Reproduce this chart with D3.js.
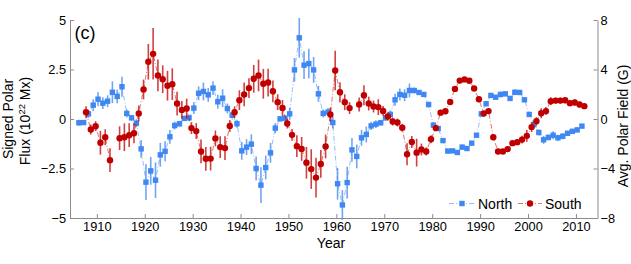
<!DOCTYPE html>
<html>
<head>
	<meta charset="utf-8">
	<script src="https://d3js.org/d3.v7.min.js"></script>
	<style>
		body { margin: 0; background: #fff; }
		text { font-family: "Liberation Sans", Arial, sans-serif; }
	</style>
</head>
<body>
	<div id="chart"></div>
	<script type="text/javascript">
		"use strict";

		// North hemisphere signed polar flux (10^22 Mx), one value per year
		var northYears = [1906,1907,1908,1909,1910,1911,1912,1913,1914,1915,1916,1917,1918,1919,1920,1921,1922,1923,1924,1925,
			1926,1927,1928,1929,1930,1931,1932,1933,1934,1935,1936,1937,1938,1939,1940,1941,1942,1943,1944,1945,
			1946,1947,1948,1949,1950,1951,1952,1953,1954,1955,1956,1957,1958,1959,1960,1961,1962,1963,1964,1965,
			1966,1967,1968,1969,1970,1971,1972,1973,1974,1975,1976,1977,1978,1979,1980,1981,1982,1983,1984,1985,
			1986,1987,1988,1989,1990,1991,1992,1993,1994,1995,1996,1997,1998,1999,2000,2001,2002,2003,2004,2005,
			2006,2007,2008,2009,2010,2011];
		var northFlux = [-0.19,-0.18,0.26,0.70,1.00,0.80,0.90,1.35,1.14,1.63,0.28,0.06,-0.21,-1.51,-3.19,-2.62,-3.09,-1.81,-1.63,-0.90,
			-0.33,-0.24,0.03,0.06,0.55,1.30,1.39,1.22,1.56,0.87,1.05,0.53,0.19,-0.24,-1.61,-1.42,-1.27,-2.50,-3.34,-2.45,
			-1.71,-0.46,0.01,0.04,0.26,2.48,4.10,2.72,2.80,2.48,1.27,0.28,0.35,-0.18,-3.27,-4.34,-3.21,-1.56,-1.89,-0.95,
			-0.78,-0.35,-0.26,-0.19,0.06,0.23,0.97,1.24,1.20,1.44,1.44,1.34,1.24,0.73,-0.31,-0.48,-1.09,-1.62,-1.61,-1.69,
			-1.42,-1.49,-1.22,-0.82,0.26,0.77,1.19,1.10,1.24,1.27,1.04,1.35,1.34,0.97,0.23,-0.28,-0.68,-1.05,-0.93,-0.82,
			-0.95,-0.87,-0.72,-0.62,-0.55,-0.36];
		var northErr = [0.15,0.12,0.2,0.3,0.35,0.3,0.3,0.55,0.35,0.5,0.2,0.15,0.2,0.45,0.9,0.7,0.9,0.6,0.5,0.35,
			0.2,0.15,0.12,0.15,0.3,0.35,0.45,0.35,0.35,0.35,0.45,0.25,0.15,0.2,0.45,0.4,0.5,0.6,0.9,0.6,
			0.5,0.25,0.12,0.15,0.3,0.6,1.0,0.7,0.75,0.65,0.4,0.2,0.2,0.3,0.8,0.75,0.8,0.6,0.6,0.4,
			0.4,0.2,0.2,0.15,0.15,0.2,0.3,0.3,0.3,0.35,0.15,0.12,0.12,0.15,0.15,0.1,0.1,0.1,0.1,0.1,
			0.12,0.1,0.1,0.1,0.1,0.12,0.12,0.1,0.15,0.12,0.12,0.15,0.12,0.12,0.12,0.15,0.15,0.2,0.15,0.2,
			0.15,0.15,0.12,0.12,0.12,0.1];

		// South hemisphere (1913 and 1963 have no value)
		var southYears = [1907,1908,1909,1910,1911,1912,1914,1915,1916,1917,1918,1919,1920,1921,1922,1923,1924,1925,
			1926,1927,1928,1929,1930,1931,1932,1933,1934,1935,1936,1937,1938,1939,1940,1941,1942,1943,1944,1945,
			1946,1947,1948,1949,1950,1951,1952,1953,1954,1955,1956,1957,1958,1959,1960,1961,1962,1964,1965,
			1966,1967,1968,1969,1970,1971,1972,1973,1974,1975,1976,1977,1978,1979,1980,1981,1982,1983,1984,1985,
			1986,1987,1988,1989,1990,1991,1992,1993,1994,1995,1996,1997,1998,1999,2000,2001,2002,2003,2004,2005,
			2006,2007,2008,2009,2010,2011];
		var southFlux = [0.34,-0.53,-0.36,-1.20,-0.92,-2.08,-0.97,-0.92,-0.82,-0.72,0.28,1.49,2.89,3.29,2.20,2.01,1.68,1.76,
			0.78,0.46,0.53,-0.46,-0.61,-1.64,-2.01,-2.00,-0.98,-1.42,-1.47,-0.35,0.34,0.95,1.24,1.56,2.03,2.20,1.78,1.84,
			1.40,0.85,0.56,-0.23,-0.80,-1.37,-1.51,-2.21,-2.53,-2.96,-2.27,-1.39,0.23,2.45,1.35,0.85,0.55,0.73,1.20,
			0.78,0.63,0.60,0.41,0.13,-0.13,-0.18,-0.44,-1.78,-1.16,-1.70,-1.54,-1.64,-1.02,-0.46,0.32,0.39,0.86,1.52,1.94,
			2.00,1.93,1.54,1.00,0.28,0.40,-0.92,-1.64,-1.64,-1.52,-1.22,-1.17,-1.04,-0.85,-0.41,-0.11,0.29,0.40,0.90,0.93,
			0.93,0.95,0.80,0.83,0.73,0.65];
		var southErr = [0.3,0.25,0.25,0.6,0.4,0.6,0.6,0.7,0.6,0.5,0.4,0.5,0.9,1.3,0.8,0.7,0.75,0.8,
			0.6,0.45,0.5,0.3,0.4,0.6,0.6,0.6,0.4,0.55,0.6,0.3,0.3,0.5,0.6,0.5,0.7,0.8,0.75,0.7,
			0.55,0.4,0.4,0.25,0.3,0.55,0.6,0.8,1.0,1.0,0.7,0.6,0.35,1.0,0.5,0.4,0.3,0.35,0.5,
			0.35,0.3,0.4,0.25,0.2,0.2,0.2,0.2,0.55,0.3,0.7,0.3,0.2,0.2,0.15,0.12,0.15,0.12,0.12,0.1,
			0.1,0.1,0.12,0.12,0.12,0.12,0.15,0.12,0.1,0.12,0.12,0.15,0.2,0.3,0.25,0.2,0.25,0.2,0.2,0.15,
			0.15,0.15,0.15,0.15,0.15,0.15];

		var yearTicks = [1910,1920,1930,1940,1950,1960,1970,1980,1990,2000,2010];
		var fluxTicks = [-5,-2.5,0,2.5,5];
		var fieldTicks = [-8,-4,0,4,8];

		var width = 631, height = 264;
		var plotL = 70, plotR = 597.5, plotT = 20, plotB = 218;
		var blue = "#3f87f2", red = "#c00000";

		var svg = d3.select("#chart")
			.append("svg")
			.attr("width", width)
			.attr("height", height);

		var x = d3.scaleLinear().domain([1904.4, 2014.5]).range([plotL, plotR]);
		var y = d3.scaleLinear().domain([-5, 5]).range([plotB, plotT]);
		var yField = d3.scaleLinear().domain([-8, 8]).range([plotB, plotT]);
		var fmt = d3.format("~g");

		//axes, light grey lines with inward ticks
		var gx = svg.append("g")
			.attr("transform", "translate(0," + plotB + ")")
			.call(d3.axisBottom(x).tickValues(yearTicks).tickFormat(d3.format("d"))
				.tickSize(-4).tickSizeOuter(0).tickPadding(4));
		var gy = svg.append("g")
			.attr("transform", "translate(" + plotL + ",0)")
			.call(d3.axisLeft(y).tickValues(fluxTicks).tickFormat(fmt)
				.tickSize(-4).tickSizeOuter(0).tickPadding(4));
		var gy2 = svg.append("g")
			.attr("transform", "translate(" + plotR + ",0)")
			.call(d3.axisRight(yField).tickValues(fieldTicks).tickFormat(fmt)
				.tickSize(-4).tickSizeOuter(0).tickPadding(3));

		[gx, gy, gy2].forEach(function(g) {
			g.selectAll("path, line").attr("stroke", "#8c8c8c").attr("stroke-width", 1);
			g.selectAll("text").attr("fill", "#000")
				.style("font-family", "'Liberation Sans', Arial, sans-serif")
				.style("font-size", "12.8px");
		});

		// one series: dash-dot line, error bars, markers
		function drawSeries(years, flux, err, offset, color, shape) {
			var pts = years.map(function(yr, i) {
				return {year: yr, v: flux[i], e: err[i], gap: i > 0 && yr - years[i - 1] > 1};
			});
			var g = svg.append("g");

			//break the line where a year is missing
			var segs = [[]];
			pts.forEach(function(p) {
				if (p.gap) segs.push([]);
				segs[segs.length - 1].push(p);
			});
			var line = d3.line()
				.x(function(d) { return x(d.year + offset); })
				.y(function(d) { return y(d.v); });
			g.selectAll(".link").data(segs).enter().append("path")
				.attr("d", line)
				.attr("fill", "none")
				.attr("stroke", color)
				.attr("stroke-opacity", 0.55)
				.attr("stroke-width", 1)
				.attr("stroke-dasharray", "5,2,1,2");

			g.selectAll(".err").data(pts).enter().append("line")
				.attr("x1", function(d) { return x(d.year + offset); })
				.attr("x2", function(d) { return x(d.year + offset); })
				.attr("y1", function(d) { return y(d.v - d.e); })
				.attr("y2", function(d) { return y(d.v + d.e); })
				.attr("stroke", color)
				.attr("stroke-opacity", 0.75)
				.attr("stroke-width", 1.6);

			if (shape === "square") {
				g.selectAll(".mk").data(pts).enter().append("rect")
					.attr("x", function(d) { return x(d.year + offset) - 2.7; })
					.attr("y", function(d) { return y(d.v) - 2.7; })
					.attr("width", 5.4)
					.attr("height", 5.4)
					.attr("fill", color);
			} else {
				g.selectAll(".mk").data(pts).enter().append("circle")
					.attr("cx", function(d) { return x(d.year + offset); })
					.attr("cy", function(d) { return y(d.v); })
					.attr("r", 3.2)
					.attr("fill", color);
			}
		}

		drawSeries(northYears, northFlux, northErr, 0.25, blue, "square");
		drawSeries(southYears, southFlux, southErr, 0.75, red, "circle");

		//titles
		svg.append("text")
			.attr("transform", "translate(12.5,119) rotate(-90)")
			.attr("text-anchor", "middle")
			.style("font-size", "14px")
			.text("Signed Polar");
		var t2 = svg.append("text")
			.attr("transform", "translate(29.5,121) rotate(-90)")
			.attr("text-anchor", "middle")
			.style("font-size", "14px");
		t2.append("tspan").text("Flux (10");
		t2.append("tspan").attr("dy", -5).style("font-size", "9.5px").text("22");
		t2.append("tspan").attr("dy", 5).text(" Mx)");

		svg.append("text")
			.attr("transform", "translate(627.5,126) rotate(-90)")
			.attr("text-anchor", "middle")
			.style("font-size", "14px")
			.text("Avg. Polar Field (G)");

		svg.append("text")
			.attr("x", 331)
			.attr("y", 248)
			.attr("text-anchor", "middle")
			.style("font-size", "14px")
			.text("Year");

		svg.append("text")
			.attr("x", 74.5)
			.attr("y", 39)
			.style("font-size", "18px")
			.text("(c)");

		//legend
		var legend = [
			{name: "North", color: blue, shape: "square", x0: 449, x1: 475, tx: 478},
			{name: "South", color: red, shape: "circle", x0: 518, x1: 542, tx: 545}
		];
		var ly = 203.5;
		legend.forEach(function(l) {
			svg.append("line")
				.attr("x1", l.x0).attr("x2", l.x1)
				.attr("y1", ly).attr("y2", ly)
				.attr("stroke", l.color)
				.attr("stroke-opacity", 0.55)
				.attr("stroke-dasharray", "5,2,1,2");
			var cx = (l.x0 + l.x1) / 2;
			if (l.shape === "square") {
				svg.append("rect").attr("x", cx - 2.7).attr("y", ly - 2.7)
					.attr("width", 5.4).attr("height", 5.4).attr("fill", l.color);
			} else {
				svg.append("circle").attr("cx", cx).attr("cy", ly).attr("r", 3.2).attr("fill", l.color);
			}
			svg.append("text")
				.attr("x", l.tx)
				.attr("y", ly + 5.5)
				.style("font-size", "14px")
				.text(l.name);
		});
	</script>
</body>
</html>
